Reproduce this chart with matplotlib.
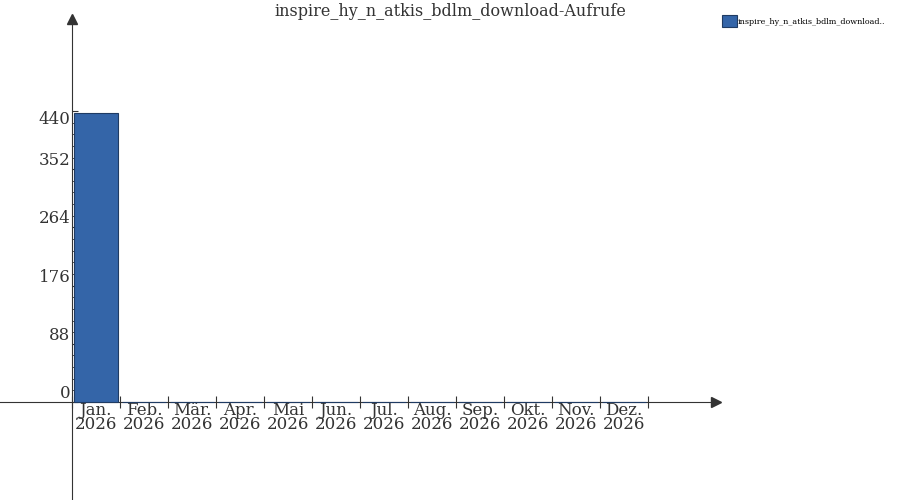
import numpy as np
import matplotlib.pyplot as plt
from matplotlib.ticker import FixedLocator

months = ['Jan.', 'Feb.', 'Mär.', 'Apr.', 'Mai', 'Jun.', 'Jul.', 'Aug.',
          'Sep.', 'Okt.', 'Nov.', 'Dez.']
year = '2026'
calls = [437, 0, 0, 0, 0, 0, 0, 0, 0, 0, 0, 0]
yticks = [0, 88, 176, 264, 352, 440]
series_name = 'inspire_hy_n_atkis_bdlm_download..'
title = 'inspire_hy_n_atkis_bdlm_download-Aufrufe'

plt.rcParams['font.family'] = ['DejaVu Serif']
ink = '#333333'

fig = plt.figure(figsize=(9, 5), dpi=100)
ax = fig.add_axes([0, 0, 1, 1])

# pixel layout: slot width 48px, origin at (72, 402), 0.6614 px per unit
px_x = 48.0
px_y = 291.0 / 440
ax.set_xlim(-72 / px_x, (900 - 72) / px_x)
ax.set_ylim(-(500 - 402) / px_y, 402 / px_y)

x = np.arange(len(months)) + 0.5
ax.bar(x, calls, width=0.9, color='#3465a8', edgecolor='#1f3b63', linewidth=0.8,
       label=series_name, zorder=3)

for s in ['top', 'right']:
    ax.spines[s].set_visible(False)
ax.spines['left'].set_position(('data', 0))
ax.spines['bottom'].set_position(('data', 0))
ax.spines['left'].set_color(ink)
ax.spines['bottom'].set_color(ink)
y_top = (402 - 15) / px_y
x_end = (720 - 72) / px_x
ax.spines['left'].set_bounds(ax.get_ylim()[0], y_top)
ax.spines['bottom'].set_bounds(ax.get_xlim()[0], x_end)
ax.plot([0], [y_top - 4 / px_y], marker='^', color=ink, markersize=7, clip_on=False)
ax.plot([x_end - 4 / px_x], [0], marker='>', color=ink, markersize=7, clip_on=False)

# y axis
ax.set_yticks(yticks)
ax.set_yticklabels([str(v) for v in yticks], fontsize=12, color=ink)
ax.yaxis.set_minor_locator(FixedLocator(np.arange(0, 440, 17.6)))
ax.tick_params(axis='y', which='major', direction='in', length=4, color=ink, pad=1)
ax.tick_params(axis='y', which='minor', direction='in', length=3, color=ink)
for lab in ax.get_yticklabels():
    lab.set_va('bottom')
ax.get_yticklabels()[-1].set_va('top')

# x axis: ticks on slot boundaries, labels in slot centres
ax.set_xticks(np.arange(len(months) + 1))
ax.set_xticklabels([])
ax.set_xticks(x, minor=True)
ax.set_xticklabels([f'{m}\n{year}' for m in months], minor=True, fontsize=12,
                   color=ink, linespacing=0.75)
ax.tick_params(axis='x', which='major', direction='inout', length=8, color=ink)
ax.tick_params(axis='x', which='minor', length=0, pad=0)

fig.text(0.5, 0.995, title, ha='center', va='top', fontsize=11.5, color=ink)

leg = ax.legend(loc='upper left', bbox_to_anchor=(722 / 900, 1 - 15 / 500),
                bbox_transform=fig.transFigure, frameon=False, fontsize=5.8,
                handlelength=1.9, handleheight=1.9, handletextpad=0.05,
                borderaxespad=0, borderpad=0)

fig.savefig('out.png', dpi=100)
